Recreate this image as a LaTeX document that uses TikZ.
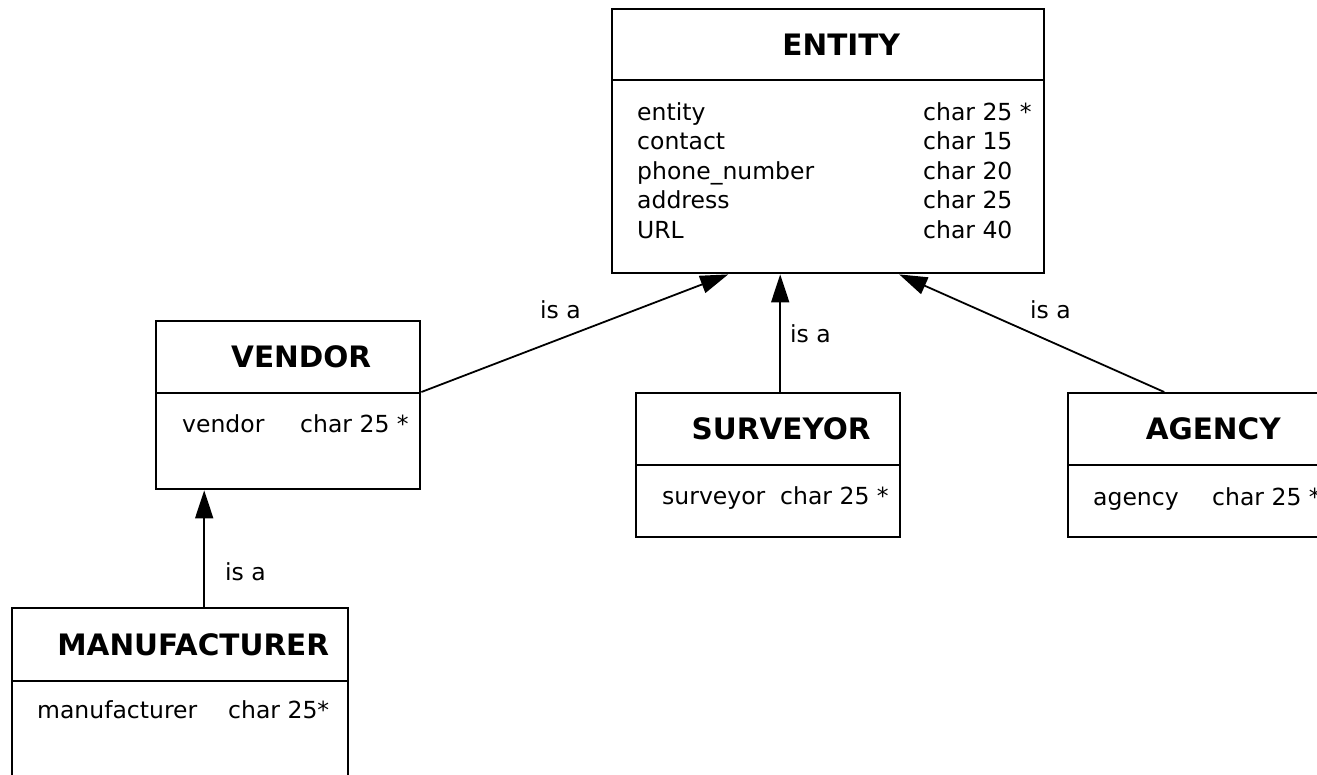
\documentclass[tikz,border=0pt]{standalone}
\usepackage{fontspec}
\setmainfont{DejaVu Sans}
\usetikzlibrary{arrows.meta}

\begin{document}
\begin{tikzpicture}[x=1pt, y=-1pt,
        titlebox/.style={draw=black, line width=2.4pt, rectangle, inner sep=0pt, anchor=north west, font=\bfseries\fontsize{29.5}{35}\selectfont},
        bodybox/.style={draw=black, line width=2.4pt, rectangle, inner sep=0pt, anchor=north west},
        attrs/.style={inner sep=0pt, anchor=base west, font=\fontsize{23.5}{29.5}\selectfont},
        isalabel/.style={inner sep=0pt, anchor=base west, font=\fontsize{23.5}{28}\selectfont},
        isa/.style={draw=black, line width=1.8pt, -{Triangle[length=28pt, width=18pt]}}]
                \useasboundingbox (0,0) rectangle (1317,774);
                \clip (0,0) rectangle (1317,774);

                % ENTITY
                \node [titlebox, minimum width=432, minimum height=71] (entity) at (611,8) {\hspace*{26pt}ENTITY};
                \node [bodybox, minimum width=432, minimum height=193] (entity-body) at (611,79) {};
                \node [attrs] (entity-attrs) at (637,120) {\begin{tabular}[t]{@{}p{286pt}@{}l@{}}
                    entity & char 25 *\\
                    contact & char 15\\
                    phone\_number & char 20\\
                    address & char 25\\
                    URL & char 40
                \end{tabular}};

                % VENDOR
                \node [titlebox, minimum width=264, minimum height=72] (vendor) at (155,320) {\hspace*{26pt}VENDOR};
                \node [bodybox, minimum width=264, minimum height=96] (vendor-body) at (155,392) {};
                \node [attrs] (vendor-attrs) at (182,432) {\begin{tabular}[t]{@{}p{118pt}@{}l@{}}vendor & char 25 *\end{tabular}};

                % SURVEYOR
                \node [titlebox, minimum width=264, minimum height=72] (surveyor) at (635,392) {\hspace*{26pt}SURVEYOR};
                \node [bodybox, minimum width=264, minimum height=72] (surveyor-body) at (635,464) {};
                \node [attrs] (surveyor-attrs) at (662,504) {\begin{tabular}[t]{@{}p{118pt}@{}l@{}}surveyor & char 25 *\end{tabular}};

                % AGENCY
                \node [titlebox, minimum width=264, minimum height=72] (agency) at (1067,392) {\hspace*{26pt}AGENCY};
                \node [bodybox, minimum width=264, minimum height=72] (agency-body) at (1067,464) {};
                \node [attrs] (agency-attrs) at (1093,505) {\begin{tabular}[t]{@{}p{119pt}@{}l@{}}agency & char 25 *\end{tabular}};

                % MANUFACTURER
                \node [titlebox, minimum width=336, minimum height=73] (manufacturer) at (11,607) {\hspace*{26pt}MANUFACTURER};
                \node [bodybox, minimum width=336, minimum height=130] (manufacturer-body) at (11,680) {};
                \node [attrs] (manufacturer-attrs) at (37,718) {\begin{tabular}[t]{@{}p{191pt}@{}l@{}}manufacturer & char 25*\end{tabular}};

                % is a
                \draw [isa] (vendor-body.north east) -- ([xshift=-100pt]entity-body.south);
                \draw [isa] ([xshift=12pt]surveyor.north) -- ([xshift=12pt]surveyor.north |- entity-body.south);
                \draw [isa] ([xshift=-36pt]agency.north) -- ([xshift=71pt]entity-body.south);
                \draw [isa] ([xshift=24pt]manufacturer.north) -- ([xshift=24pt]manufacturer.north |- vendor-body.south);

                \node [isalabel] (isa-vendor) at (540,318) {is a};
                \node [isalabel] (isa-surveyor) at (790,342) {is a};
                \node [isalabel] (isa-agency) at (1030,318) {is a};
                \node [isalabel] (isa-manufacturer) at (225,580) {is a};
            \end{tikzpicture}
\end{document}
